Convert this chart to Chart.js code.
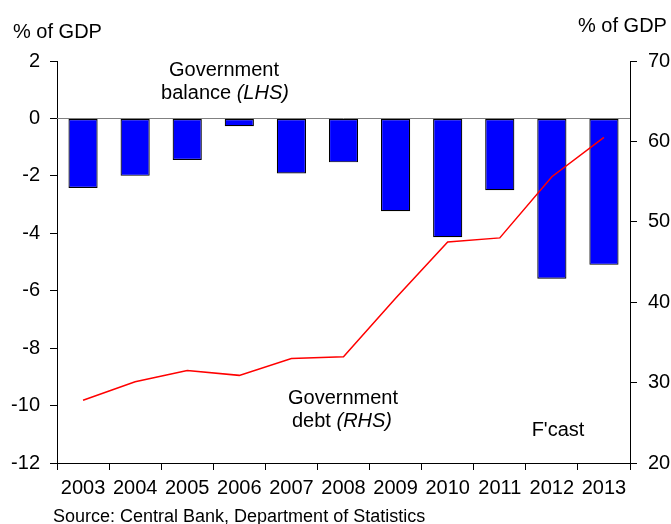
<!DOCTYPE html>
<html>
<head>
<meta charset="utf-8">
<script src="https://cdn.jsdelivr.net/npm/chart.js@4/dist/chart.umd.min.js"></script>
<style>
    html, body { margin: 0; padding: 0; background: #fff; }
    canvas { display: block; }
</style>
</head>
<body>
<canvas id="chart" width="671" height="524"></canvas>
<script>
// Daten
const years = ['2003', '2004', '2005', '2006', '2007', '2008', '2009', '2010', '2011', '2012', '2013'];
const balance = [-2.42, -2.0, -1.45, -0.27, -1.92, -1.53, -3.23, -4.14, -2.5, -5.58, -5.1];
const debt = [27.8, 30.1, 31.5, 30.9, 33.0, 33.2, 40.5, 47.5, 48.0, 55.6, 60.5];
const leftTicks = [-12, 2, 2];   // min, max, step
const rightTicks = [20, 70, 10];

const FONT = '"Liberation Sans", Arial, sans-serif';

// Text mit kursiven Teilen zentriert zeichnen
function drawMixed(ctx, parts, cx, y, size) {
    let total = 0;
    parts.forEach(p => {
        ctx.font = (p.italic ? 'italic ' : '') + size + 'px ' + FONT;
        p.w = ctx.measureText(p.text).width;
        total += p.w;
    });
    let x = cx - total / 2;
    parts.forEach(p => {
        ctx.font = (p.italic ? 'italic ' : '') + size + 'px ' + FONT;
        ctx.fillText(p.text, x, y);
        x += p.w;
    });
}

const labelsPlugin = {
    id: 'labels',
    beforeDatasetsDraw(chart) {
        // Nulllinie
        const { ctx, chartArea } = chart;
        const y0 = Math.round(chart.scales.y.getPixelForValue(0)) + 0.5;
        ctx.save();
        ctx.strokeStyle = '#808080';
        ctx.lineWidth = 1;
        ctx.beginPath();
        ctx.moveTo(chartArea.left, y0);
        ctx.lineTo(chartArea.right, y0);
        ctx.stroke();
        ctx.restore();
    },
    afterDraw(chart) {
        const ctx = chart.ctx;
        ctx.save();
        ctx.fillStyle = '#000';
        ctx.textBaseline = 'alphabetic';
        ctx.textAlign = 'left';
        ctx.font = '20px ' + FONT;
        ctx.fillText('% of GDP', 13, 38);
        ctx.fillText('% of GDP', 578, 32);

        drawMixed(ctx, [{ text: 'Government' }], 224, 76, 20);
        drawMixed(ctx, [{ text: 'balance ' }, { text: '(LHS)', italic: true }], 225, 99, 20);
        drawMixed(ctx, [{ text: 'Government' }], 343, 404, 20);
        drawMixed(ctx, [{ text: 'debt ' }, { text: '(RHS)', italic: true }], 342, 427, 20);
        drawMixed(ctx, [{ text: "F'cast" }], 558, 436, 20);

        ctx.textAlign = 'left';
        ctx.font = '18px ' + FONT;
        ctx.fillText('Source: Central Bank, Department of Statistics', 53, 522);
        ctx.restore();
    }
};

const axisGrid = {
    drawOnChartArea: false,
    drawTicks: true,
    tickLength: 7,
    color: '#000',
    lineWidth: 1
};

new Chart(document.getElementById('chart'), {
    data: {
        labels: years,
        datasets: [
            {
                type: 'line',
                label: 'Government debt (RHS)',
                data: debt,
                yAxisID: 'y1',
                borderColor: '#ff0000',
                borderWidth: 1.5,
                pointRadius: 0,
                tension: 0,
                order: 0
            },
            {
                type: 'bar',
                label: 'Government balance (LHS)',
                data: balance,
                yAxisID: 'y',
                backgroundColor: '#0000ff',
                borderColor: '#000000',
                borderWidth: 1.2,
                borderSkipped: false,
                barPercentage: 0.56,
                categoryPercentage: 1,
                order: 1
            }
        ]
    },
    options: {
        responsive: false,
        animation: false,
        devicePixelRatio: 1,
        layout: { padding: { top: 61, bottom: 21, left: 0, right: 0 } },
        plugins: {
            legend: { display: false },
            tooltip: { enabled: false }
        },
        scales: {
            x: {
                offset: true,
                grid: { ...axisGrid, offset: true },
                border: { display: true, color: '#000', width: 1 },
                ticks: {
                    color: '#000',
                    font: { family: FONT, size: 20 },
                    padding: 6,
                    maxRotation: 0,
                    autoSkip: false
                },
                afterFit: (scale) => { scale.height = 40; }
            },
            y: {
                position: 'left',
                min: leftTicks[0],
                max: leftTicks[1],
                grid: axisGrid,
                border: { display: true, color: '#000', width: 1 },
                ticks: {
                    stepSize: leftTicks[2],
                    color: '#000',
                    font: { family: FONT, size: 20 },
                    padding: 10
                },
                afterFit: (scale) => { scale.width = 57; }
            },
            y1: {
                position: 'right',
                min: rightTicks[0],
                max: rightTicks[1],
                grid: axisGrid,
                border: { display: true, color: '#000', width: 1 },
                ticks: {
                    stepSize: rightTicks[2],
                    color: '#000',
                    font: { family: FONT, size: 20 },
                    padding: 11
                },
                afterFit: (scale) => { scale.width = 41; }
            }
        }
    },
    plugins: [labelsPlugin]
});
</script>
</body>
</html>
